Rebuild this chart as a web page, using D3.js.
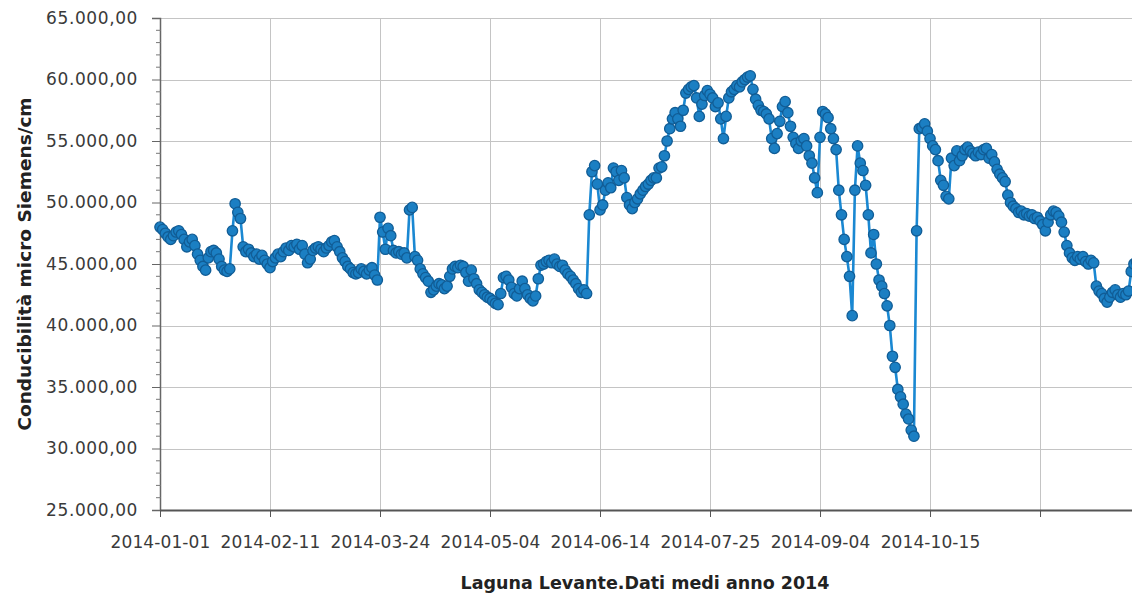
<!DOCTYPE html>
<html>
<head>
<meta charset="utf-8">
<script src="https://cdn.jsdelivr.net/npm/d3@7"></script>
<style>
  html, body { margin: 0; padding: 0; background: #fff; }
  svg { display: block; }
</style>
</head>
<body>
<svg id="chart" width="1132" height="596"></svg>
<script>
// ---- Data: daily mean conductivity (micro Siemens/cm), 2014 ----
const jan = [48000,47800,47500,47200,47000,47300,47600,47700,47400,47000,46400,46800,47000,46500,45800,45300,44800,44500,45500,46000,46100,45900,45400,44800,44500,44400,44600,47700,49900,49200,48700];
const feb = [46400,46000,46200,45900,45600,45800,45400,45700,45300,45000,44700,45200,45500,45800,45600,46000,46300,46100,46500,46400,46600,46200,46500,45800,45100,45400,46100,46300];
const mar = [46400,46200,46000,46300,46500,46800,46900,46400,46000,45500,45200,44800,44600,44300,44200,44300,44600,44400,44200,44500,44700,44100,43700,48800,47600,46200,47900,47300,46100,45900,46000];
const apr = [45800,45900,45500,49400,49600,45600,45300,44600,44200,43900,43600,42700,42900,43200,43400,43300,43000,43200,44000,44600,44800,44700,44900,44800,44300,43600,44500,43800,43400,42900];
const may = [42700,42500,42300,42200,42000,41800,41700,42600,43900,44000,43700,43100,42600,42400,43000,43600,43000,42500,42200,42000,42400,43800,44900,45000,45200,45300,45100,45400,45000,44800,44900];
const jun = [44500,44200,44000,43700,43400,43000,42700,42900,42600,49000,52500,53000,51500,49400,49800,51000,51600,51200,52800,52500,51800,52600,52000,50400,49800,49500,50000,50300,50700,51000];
const jul = [51300,51500,51800,52000,52000,52800,52900,53800,55000,56000,56800,57300,56800,56200,57500,58900,59200,59400,59500,58500,57000,58000,58700,59100,58800,58500,57800,58100,56800,55200,57000];
const aug = [58500,59000,59200,59500,59400,59800,60000,60200,60300,59200,58400,57900,57500,57400,57200,56800,55200,54400,55600,56600,57800,58200,57300,56200,55300,54800,54400,55000,55200,54600,53800];
const sep = [53200,52000,50800,55300,57400,57200,56900,56000,55200,54300,51000,49000,47000,45600,44000,40800,51000,54600,53200,52600,51400,49000,45900,47400,45000,43700,43200,42600,41600,40000];
const oct = [37500,36600,34800,34200,33600,32800,32400,31500,31000,47700,56000,56100,56400,55800,55200,54600,54300,53400,51800,51400,50500,50300,53600,53000,54200,53400,53800,54300,54500,54200,54000];
const nov = [53800,54100,53900,54300,54400,53600,53900,53300,52700,52300,52000,51700,50600,50000,49700,49500,49200,49300,49000,49100,48900,49000,48700,48800,48500,48200,47700,48400,49000,49300];
const dec = [49200,48900,48400,47600,46500,45900,45500,45300,45600,45400,45600,45200,45000,45300,45100,43200,42800,42600,42200,41900,42300,42700,42900,42500,42300,42600,42500,42800,44400,45000,45200];

const months = [jan, feb, mar, apr, may, jun, jul, aug, sep, oct, nov, dec];

const xTickDates = ["2014-01-01","2014-02-11","2014-03-24","2014-05-04","2014-06-14","2014-07-25","2014-09-04","2014-10-15","2014-11-25"];
const xTickLabels = ["2014-01-01","2014-02-11","2014-03-24","2014-05-04","2014-06-14","2014-07-25","2014-09-04","2014-10-15",""];
const yTicks = [25000,30000,35000,40000,45000,50000,55000,60000,65000];

const yTitle = "Conducibilità micro Siemens/cm";
const xTitle = "Laguna Levante.Dati medi anno 2014";

// ---- Build series ----
const series = [];
months.forEach((vals, m) => {
  vals.forEach((v, i) => series.push({ date: new Date(Date.UTC(2014, m, i + 1)), value: v }));
});

const svg = d3.select("#chart");
const plotL = 160, plotT = 18, plotB = 510;
const plotR = 160 + 364 * 2.683;

const x = d3.scaleUtc()
  .domain([new Date(Date.UTC(2014, 0, 1)), new Date(Date.UTC(2014, 11, 31))])
  .range([plotL, plotR]);
const y = d3.scaleLinear().domain([25000, 65000]).range([plotB, plotT]);

const itLocale = d3.formatLocale({ decimal: ",", thousands: ".", grouping: [3], currency: ["", ""] });
const yFmt = itLocale.format(",.2f");

const font = "'DejaVu Sans', Verdana, sans-serif";

// Grid
const grid = svg.append("g");
grid.selectAll("line.h").data(yTicks).join("line")
  .attr("x1", plotL).attr("x2", 1132)
  .attr("y1", d => Math.round(y(d)) + 0.5).attr("y2", d => Math.round(y(d)) + 0.5)
  .attr("stroke", "#c4c4c4").attr("stroke-width", 1);
const xDates = xTickDates.map(s => new Date(s + "T00:00:00Z"));
grid.selectAll("line.v").data(xDates).join("line")
  .attr("x1", d => Math.round(x(d)) + 0.5).attr("x2", d => Math.round(x(d)) + 0.5)
  .attr("y1", plotT).attr("y2", plotB)
  .attr("stroke", "#c4c4c4").attr("stroke-width", 1);

// Y axis (major)
const yAxis = d3.axisLeft(y).tickValues(yTicks).tickFormat(yFmt).tickSize(8).tickPadding(14);
const gy = svg.append("g").attr("transform", `translate(${plotL},0)`).call(yAxis);
gy.select(".domain").attr("stroke", "#666").attr("stroke-width", 1.5);
gy.selectAll(".tick line").attr("stroke", "#666");
gy.selectAll(".tick text").attr("fill", "#3a3a3a").style("font-family", font).style("font-size", "17px").style("letter-spacing", "0.6px");

// Y minor ticks
const minor = d3.range(25000, 65001, 1000).filter(v => v % 5000 !== 0);
svg.append("g").selectAll("line").data(minor).join("line")
  .attr("x1", plotL - 4).attr("x2", plotL + 1)
  .attr("y1", d => y(d)).attr("y2", d => y(d))
  .attr("stroke", "#777").attr("stroke-width", 1);

// X axis
const xAxis = d3.axisBottom(x).tickValues(xDates).tickFormat((d, i) => xTickLabels[i]).tickSize(7).tickPadding(19).tickSizeOuter(0);
const gx = svg.append("g").attr("transform", `translate(0,${plotB})`).call(xAxis);
gx.select(".domain").attr("stroke", "#555").attr("stroke-width", 2);
gx.selectAll(".tick line").attr("stroke", "#555");
gx.selectAll(".tick text").attr("fill", "#3a3a3a").style("font-family", font).style("font-size", "17px").style("letter-spacing", "0.1px");

// Line and markers
const line = d3.line().x(d => x(d.date)).y(d => y(d.value));
svg.append("path").datum(series)
  .attr("d", line).attr("fill", "none")
  .attr("stroke", "#1a88d2").attr("stroke-width", 2.6);
svg.append("g").selectAll("circle").data(series).join("circle")
  .attr("cx", d => x(d.date)).attr("cy", d => y(d.value)).attr("r", 5.2)
  .attr("fill", "#1b7fc3").attr("stroke", "#115d96").attr("stroke-width", 1.3);

// Titles
svg.append("text")
  .attr("transform", `translate(31,${(plotT + plotB) / 2}) rotate(-90)`)
  .attr("text-anchor", "middle")
  .style("font-family", font).style("font-size", "18.5px").style("font-weight", "bold")
  .attr("fill", "#222").text(yTitle);
svg.append("text")
  .attr("x", 645).attr("y", 589)
  .attr("text-anchor", "middle")
  .style("font-family", font).style("font-size", "17.5px").style("font-weight", "bold")
  .attr("fill", "#222").text(xTitle);
</script>
</body>
</html>
